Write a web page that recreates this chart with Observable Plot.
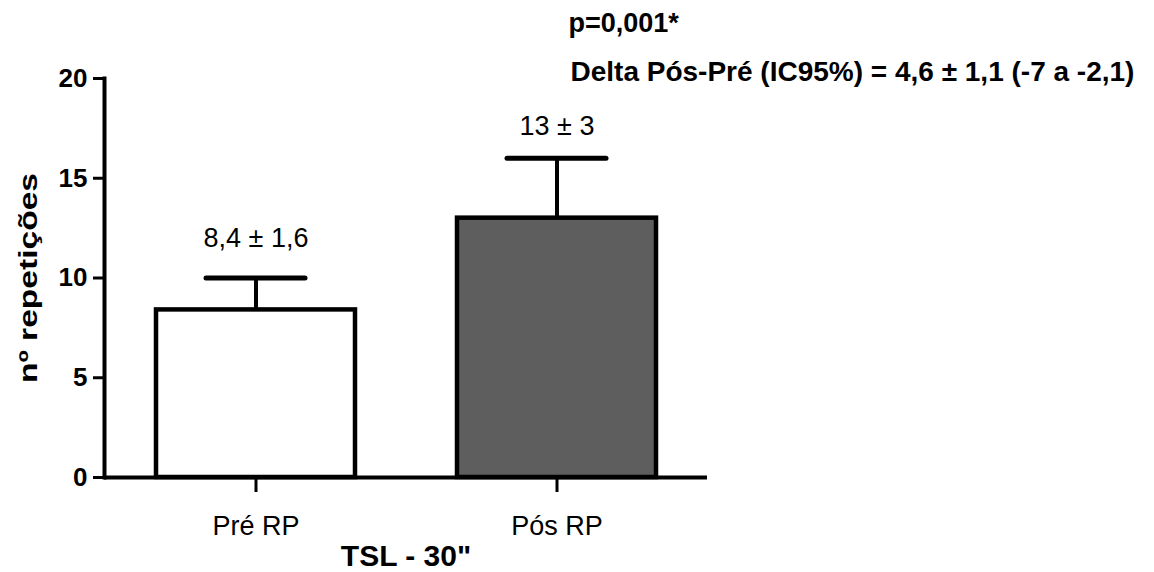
<!DOCTYPE html>
<html>
<head>
<meta charset="utf-8">
<script src="https://cdn.jsdelivr.net/npm/d3@7"></script>
<script src="https://cdn.jsdelivr.net/npm/@observablehq/plot@0.6"></script>
<style>
  html, body { margin: 0; padding: 0; background: #fff; }
  #chart svg { display: block; }
</style>
</head>
<body>
<div id="chart"></div>
<script>
const groups = ["Pré RP", "Pós RP"];
const means = [8.4, 13];
const sds = [1.6, 3];
const valueLabels = ["8,4 ± 1,6", "13 ± 3"];
const fills = ["#ffffff", "#5e5e5e"];
const yTicks = [0, 5, 10, 15, 20];
const yLabel = "nº repetições";
const xLabel = "TSL - 30\"";
const annotations = ["p=0,001*", "Delta Pós-Pré (IC95%) = 4,6 ± 1,1 (-7 a -2,1)"];

const data = groups.map((g, i) => ({group: g, mean: means[i], sd: sds[i], label: valueLabels[i], fill: fills[i]}));

const chart = Plot.plot({
  width: 1154,
  height: 572,
  marginTop: 78,
  marginBottom: 95,
  marginLeft: 104,
  marginRight: 447,
  style: {fontFamily: "'Liberation Sans', Arial, sans-serif", color: "#000", background: "#fff"},
  x: {domain: groups, paddingInner: 0.34, paddingOuter: 0.17, label: null},
  y: {domain: [0, 20], label: null},
  marks: [
    Plot.barY(data, {x: "group", y: "mean", fill: "fill", stroke: "#000", strokeWidth: 4.5}),
    Plot.ruleX(data, {x: "group", y1: "mean", y2: d => d.mean + d.sd, stroke: "#000", strokeWidth: 4}),
    Plot.tickY(data, {x: "group", y: d => d.mean + d.sd, stroke: "#000", strokeWidth: 5, strokeLinecap: "round", insetLeft: 50, insetRight: 50}),
    Plot.ruleY([0], {stroke: "#000", strokeWidth: 4}),
    Plot.frame({anchor: "left", stroke: "#000", strokeWidth: 4}),
    Plot.axisY({ticks: yTicks, tickFormat: d => String(d), tickSize: 11, tickPadding: 6, fontSize: 26, fontWeight: "bold", strokeWidth: 3, label: null}),
    Plot.axisX({tickSize: 15, tickPadding: 23, fontSize: 27, strokeWidth: 3, label: null}),
    Plot.text([data[0]], {x: "group", y: d => d.mean + d.sd, text: "label", dy: -31, lineAnchor: "bottom", fontSize: 27, fill: "#000"}),
    Plot.text([data[1]], {x: "group", y: d => d.mean + d.sd, text: "label", dy: -23, lineAnchor: "bottom", fontSize: 27, fill: "#000"}),
    Plot.text([yLabel], {text: d => d, frameAnchor: "left", dx: -76, rotate: -90, textAnchor: "middle", lineAnchor: "middle", fontSize: 26, fontWeight: "bold", fill: "#000"}),
    Plot.text([xLabel], {text: d => d, frameAnchor: "bottom", dy: 88, textAnchor: "middle", lineAnchor: "bottom", fontSize: 30, fontWeight: "bold", fill: "#000"}),
    Plot.text([annotations[0]], {text: d => d, frameAnchor: "top-left", dx: 464, dy: -47, textAnchor: "start", lineAnchor: "bottom", fontSize: 27, fontWeight: "bold", fill: "#000"}),
    Plot.text([annotations[1]], {text: d => d, frameAnchor: "top-left", dx: 466, dy: 2, textAnchor: "start", lineAnchor: "bottom", fontSize: 28, fontWeight: "bold", fill: "#000"})
  ]
});

// stretch the rotated y label to the reference length
d3.select(chart).selectAll("text").filter(function() { return this.textContent === yLabel; })
  .attr("textLength", 210).attr("lengthAdjust", "spacingAndGlyphs");

document.getElementById("chart").appendChild(chart);
</script>
</body>
</html>
